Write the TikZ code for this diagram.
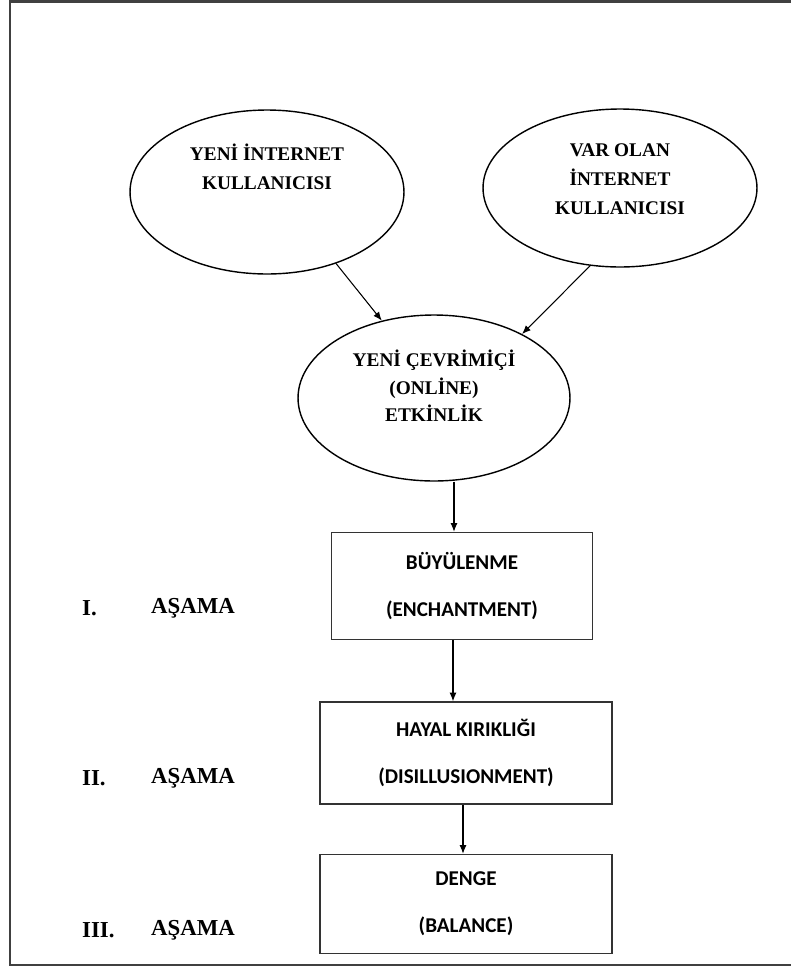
\documentclass[tikz,border=0pt]{standalone}
\usepackage{fontspec}
\setmainfont{Liberation Serif}
\newfontfamily\boxfont{Carlito}
\usetikzlibrary{shapes.geometric,arrows.meta}

\tikzset{
  bubble/.style={draw,ellipse,line width=0.8pt,inner sep=0pt,minimum width=5.48cm,minimum height=3.2cm},
  bubbletext/.style={align=center,font=\fontsize{11}{16.5}\selectfont\bfseries},
  phase/.style={draw=black!80,line width=0.8pt,minimum width=5.84cm,align=center,
    font=\boxfont\fontsize{12}{26.7}\selectfont\bfseries},
  stage/.style={anchor=west,font=\fontsize{13}{15}\selectfont\bfseries},
  arr/.style={-{Latex[length=5pt,width=4pt]},line width=0.6pt},
  frame/.style={draw=black!75,line width=1.4pt}
}

\begin{document}
\begin{tikzpicture}[x=0.02cm,y=-0.02cm]
	\useasboundingbox (0,0) rectangle (791,968);
	\draw[frame] (800,1.5) -- (10,1.5) -- (10,965) -- (800,965);

	% users
	\node[bubble,minimum height=3.28cm] (newuser) at (267,192) {};
	\node[bubbletext] (newusertext) at (267,167) {YENİ İNTERNET\\KULLANICISI};
	\node[bubble,minimum height=3.16cm] (olduser) at (620,188) {};
	\node[bubbletext] (oldusertext) at (620,179) {VAR OLAN\\İNTERNET\\KULLANICISI};

	% activity
	\node[bubble,minimum width=5.44cm,minimum height=3.32cm] (online) at (434,398) {};
	\node[bubbletext,font=\fontsize{11}{15.6}\selectfont\bfseries] (onlinetext) at (434,386) {YENİ ÇEVRİMİÇİ\\(ONLİNE)\\ETKİNLİK};

	\draw[arr] (newuser.-46) -- (online.124);
	\draw[arr] (olduser.-111) -- (online.36);

	% phases
	\node[phase,minimum width=5.22cm,minimum height=2.14cm] (enchant) at (462,586) {BÜYÜLENME\\(ENCHANTMENT)};
	\node[phase,minimum height=2.04cm] (disill) at (466,753) {HAYAL KIRIKLIĞI\\(DISILLUSIONMENT)};
	\node[phase,minimum height=1.98cm] (balance) at (466,904) {DENGE\\(BALANCE)};

	\draw[arr] ([xshift=0.4cm]online.south) -- ([xshift=0.4cm]online.south |- enchant.north);
	\draw[arr] ([xshift=-0.18cm]enchant.south) -- ([xshift=-0.18cm]enchant.south |- disill.north);
	\draw[arr] ([xshift=-0.06cm]disill.south) -- ([xshift=-0.06cm]disill.south |- balance.north);

	% stages
	\foreach \lab/\y [count=\n] in {I./608,II./778,III./930}{
		\node[stage] (num\n) at (76,\y) {\lab};
		\node[stage] (asama\n) at (145,\y) {AŞAMA};
	}
\end{tikzpicture}
\end{document}
